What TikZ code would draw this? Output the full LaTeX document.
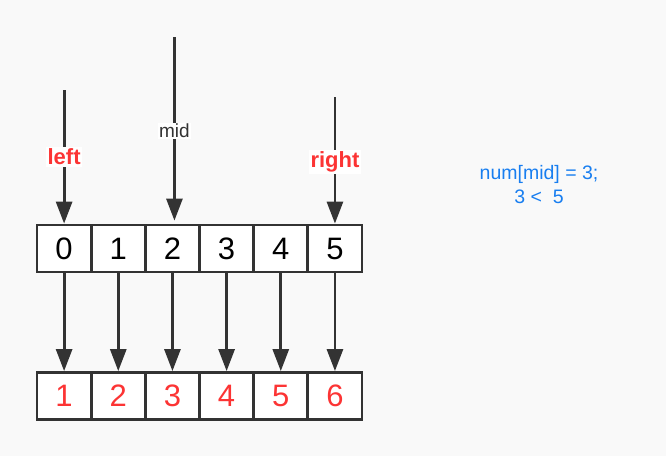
\documentclass[tikz,border=0pt]{standalone}
\usepackage{fontspec}
\setmainfont{Liberation Sans}
\usetikzlibrary{arrows.meta}
\definecolor{bg}{RGB}{249,249,249}
\definecolor{ink}{RGB}{51,51,51}
\definecolor{redt}{RGB}{252,52,52}
\definecolor{bluet}{RGB}{24,126,240}
\tikzset{
  cell/.style={draw=ink, line width=2.8pt, fill=white, minimum width=54.2pt, minimum height=47pt, inner sep=0pt, font=\fontsize{31}{31}\selectfont},
  redcell/.style={cell, text=redt},
  arr/.style={draw=ink, line width=2.8pt, -{Triangle[length=22pt,width=16pt]}},
  ptr/.style={fill=white, inner sep=1.5pt, font=\fontsize{22}{22}\selectfont\bfseries, text=redt},
  midlab/.style={fill=white, inner sep=1.5pt, font=\fontsize{19}{19}\selectfont, text=ink},
  note/.style={align=center, text=bluet, font=\fontsize{19.5}{24}\selectfont}
}
\begin{document}
\begin{tikzpicture}[x=1pt,y=-1pt]
\useasboundingbox[fill=bg] (0,0) rectangle (666,456);
% top row
\foreach \i/\v in {0/0,1/1,2/2,3/3,4/4,5/5}{
  \node[cell] (t\i) at ({64.1+54.17*\i},248.5) {\v};
}
% bottom row
\foreach \i/\v in {0/1,1/2,2/3,3/4,4/5,5/6}{
  \node[redcell] (b\i) at ({64.1+54.17*\i},396) {\v};
}
\foreach \i in {0,...,5}{
  \draw[arr] (t\i.south) -- (b\i.north);
}
% pointers
\coordinate (lstart) at (t0.north |- 0,90);
\coordinate (mstart) at ([xshift=2pt]t2.north |- 0,37);
\coordinate (rstart) at (t5.north |- 0,97);
\coordinate (mend) at ([xshift=2pt]t2.north);
\draw[arr] (lstart) -- (t0.north);
\draw[arr, shorten >=3pt] (mstart) -- (mend);
\draw[arr] (rstart) -- (t5.north);
\node[ptr] (leftlab) at (t0.north |- 0,157) {left};
\node[midlab] (midlabel) at (mstart |- 0,131) {mid};
\node[ptr] (rightlab) at (t5.north |- 0,162) {right};
% note
\node[note] (cond) at (539,185) {num[mid] = 3;\\3 <~ 5};
\end{tikzpicture}
\end{document}
